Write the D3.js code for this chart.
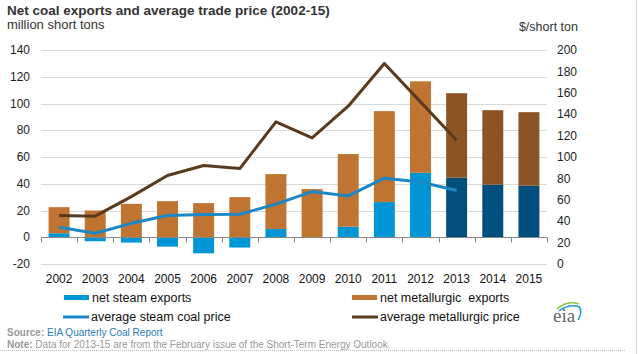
<!DOCTYPE html>
<html>
<head>
<meta charset="utf-8">
<script src="https://cdn.jsdelivr.net/npm/d3@7"></script>
<style>
  body { margin: 0; background: #fff; }
  svg { display: block; font-family: "Liberation Sans", Arial, sans-serif; }
</style>
</head>
<body>
<svg id="chart"></svg>
<script>
var YEARS = ["2002","2003","2004","2005","2006","2007","2008","2009","2010","2011","2012","2013","2014","2015"];
var STEAM_EXPORTS = [3, -3, -4, -7, -12, -7.7, 6.2, 0, 7.9, 26.3, 48.2, 44.5, 39.3, 38.5];
var MET_EXPORTS = [19.5, 20, 25, 27, 25.5, 30, 41, 36, 54.3, 68, 68.4, 63.2, 55.7, 55];
var STEAM_PRICE = [34.4, 28.8, 38, 45.3, 46.2, 46.5, 56, 67.7, 63.6, 80.2, 76.7, 68.7];
var MET_PRICE = [45.3, 44.7, 63, 82.7, 92, 89.2, 132.8, 117.8, 147.5, 187.4, 151.5, 115.7];
var LEFT_TICKS = [-20, 0, 20, 40, 60, 80, 100, 120, 140];
var RIGHT_TICKS = [0, 20, 40, 60, 80, 100, 120, 140, 160, 180, 200];
var PROJECTED_FROM = "2013";

make_chart = function () {

    width = 639;
    height = 354;
    margin = ({ top: 50, right: 92, bottom: 90, left: 41 });

    var data = YEARS.map(function (yr, i) {
        return { year: yr, steam: STEAM_EXPORTS[i], met: MET_EXPORTS[i] };
    });

    series = d3.stack().keys(["steam", "met"]).offset(d3.stackOffsetDiverging)(data);

    x = d3.scaleBand()
        .domain(YEARS)
        .range([margin.left, width - margin.right])
        .paddingInner(0.42)
        .paddingOuter(0.21);

    y = d3.scaleLinear()
        .domain([-20, 140])
        .range([height - margin.bottom, margin.top]);

    y2 = d3.scaleLinear()
        .domain([0, 200])
        .range([height - margin.bottom, margin.top]);

    var projected = d => +d.data.year >= +PROJECTED_FROM;
    var colors = {
        steam: ["#0096d6", "#004f7c"],
        met: ["#bf7432", "#8b5424"]
    };

    const svg = d3.select("#chart")
        .attr("width", width)
        .attr("height", height)
        .attr("viewBox", [0, 0, width, height]);

    // frame bits
    svg.append("line")
        .attr("x1", 636.5).attr("x2", 636.5).attr("y1", 0).attr("y2", height)
        .attr("stroke", "#d4d4d4");
    svg.append("line")
        .attr("x1", 0).attr("x2", 625).attr("y1", 350.5).attr("y2", 350.5)
        .attr("stroke", "#bbb").attr("stroke-dasharray", "1,1");

    // titles
    svg.append("text")
        .attr("x", 7).attr("y", 15)
        .attr("font-size", 13.5).attr("font-weight", "bold").attr("fill", "#333")
        .text("Net coal exports and average trade price (2002-15)");
    svg.append("text")
        .attr("x", 7).attr("y", 29)
        .attr("font-size", 13).attr("fill", "#333")
        .text("million short tons");
    svg.append("text")
        .attr("x", 578).attr("y", 31).attr("text-anchor", "end")
        .attr("font-size", 12.5).attr("fill", "#333")
        .text("$/short ton");

    // gridlines
    svg.append("g")
        .selectAll("line")
        .data(LEFT_TICKS.filter(t => t !== 0))
        .join("line")
        .attr("x1", margin.left).attr("x2", width - margin.right)
        .attr("y1", d => Math.round(y(d)) + 0.5).attr("y2", d => Math.round(y(d)) + 0.5)
        .attr("stroke", "#d9d9d9");

    // left axis labels
    svg.append("g")
        .selectAll("text")
        .data(LEFT_TICKS)
        .join("text")
        .attr("x", 30).attr("y", d => y(d)).attr("dy", "0.35em")
        .attr("text-anchor", "end")
        .attr("font-size", 12).attr("fill", "#222")
        .text(d => d);

    // right axis labels
    svg.append("g")
        .selectAll("text")
        .data(RIGHT_TICKS)
        .join("text")
        .attr("x", 557).attr("y", d => y2(d)).attr("dy", "0.35em")
        .attr("font-size", 12).attr("fill", "#222")
        .text(d => d);

    // bars
    svg.append("g")
        .selectAll("g")
        .data(series)
        .join("g")
        .selectAll("rect")
        .data(s => s.map(d => (d.key = s.key, d)))
        .join("rect")
        .attr("x", d => x(d.data.year))
        .attr("width", x.bandwidth())
        .attr("y", d => y(Math.max(d[0], d[1])))
        .attr("height", d => Math.abs(y(d[0]) - y(d[1])))
        .attr("fill", d => colors[d.key][projected(d) ? 1 : 0]);

    // zero line with ticks
    var zero = Math.round(y(0)) + 0.5;
    svg.append("line")
        .attr("x1", margin.left).attr("x2", width - margin.right)
        .attr("y1", zero).attr("y2", zero)
        .attr("stroke", "#888");
    svg.append("g")
        .selectAll("line")
        .data(d3.range(YEARS.length + 1))
        .join("line")
        .attr("x1", i => Math.round(margin.left + i * x.step()) + 0.5)
        .attr("x2", i => Math.round(margin.left + i * x.step()) + 0.5)
        .attr("y1", zero).attr("y2", zero + 5)
        .attr("stroke", "#888");

    // year labels
    svg.append("g")
        .selectAll("text")
        .data(YEARS)
        .join("text")
        .attr("x", d => x(d) + x.bandwidth() / 2)
        .attr("y", 283)
        .attr("text-anchor", "middle")
        .attr("font-size", 12).attr("fill", "#111")
        .text(d => d);

    // price lines
    var cx = i => x(YEARS[i]) + x.bandwidth() / 2;
    var priceLine = d3.line().x((d, i) => cx(i)).y(d => y2(d));

    svg.append("path")
        .datum(STEAM_PRICE)
        .attr("fill", "none")
        .attr("stroke", "#1a88c6")
        .attr("stroke-width", 3)
        .attr("stroke-linejoin", "round")
        .attr("d", priceLine);

    svg.append("path")
        .datum(MET_PRICE)
        .attr("fill", "none")
        .attr("stroke", "#5a3a1d")
        .attr("stroke-width", 3)
        .attr("stroke-linejoin", "round")
        .attr("d", priceLine);

    // legend
    var legend = [
        { label: "net steam exports", type: "rect", color: colors.steam[0], x: 64, y: 297.5 },
        { label: "net metallurgic  exports", type: "rect", color: colors.met[0], x: 352, y: 297.5 },
        { label: "average steam coal price", type: "line", color: "#1a88c6", x: 63, y: 317 },
        { label: "average metallurgic price", type: "line", color: "#5a3a1d", x: 352, y: 317 }
    ];
    var lg = svg.append("g")
        .selectAll("g")
        .data(legend)
        .join("g")
        .attr("transform", d => `translate(${d.x},${d.y})`);
    lg.filter(d => d.type === "rect").append("rect")
        .attr("x", 0).attr("y", -2.5).attr("width", 25).attr("height", 5)
        .attr("fill", d => d.color);
    lg.filter(d => d.type === "line").append("line")
        .attr("x1", 0).attr("x2", 26).attr("y1", 0).attr("y2", 0)
        .attr("stroke", d => d.color).attr("stroke-width", 3);
    lg.append("text")
        .attr("x", 28).attr("dy", "0.35em")
        .attr("font-size", 12.5).attr("fill", "#111")
        .style("white-space", "pre")
        .text(d => d.label);

    // eia mark
    var logo = svg.append("g").attr("transform", "translate(553,0)");
    logo.append("path").attr("d", "M4,309 Q14,300 26,304").attr("fill", "none").attr("stroke", "#8cc63f").attr("stroke-width", 1.5);
    logo.append("path").attr("d", "M6,311 Q16,303 27,307").attr("fill", "none").attr("stroke", "#1a9bd7").attr("stroke-width", 1.5);
    logo.append("path").attr("d", "M26,306 Q30,312 25,320").attr("fill", "none").attr("stroke", "#1a9bd7").attr("stroke-width", 1.5);
    logo.append("text")
        .attr("x", 0).attr("y", 322)
        .attr("font-family", "'Liberation Serif', serif")
        .attr("font-size", 19).attr("fill", "#666")
        .text("eia");

    // source / note
    var src = svg.append("text").attr("x", 7).attr("y", 336).attr("font-size", 10);
    src.append("tspan").attr("font-weight", "bold").attr("fill", "#999").text("Source: ");
    src.append("tspan").attr("fill", "#2b7bb9").text("EIA Quarterly Coal Report");

    var note = svg.append("text").attr("x", 7).attr("y", 347.5).attr("font-size", 10).attr("fill", "#999");
    note.append("tspan").attr("font-weight", "bold").text("Note: ");
    note.append("tspan").text("Data for 2013-15 are from the February issue of the Short-Term Energy Outlook.");
}

make_chart();
</script>
</body>
</html>
